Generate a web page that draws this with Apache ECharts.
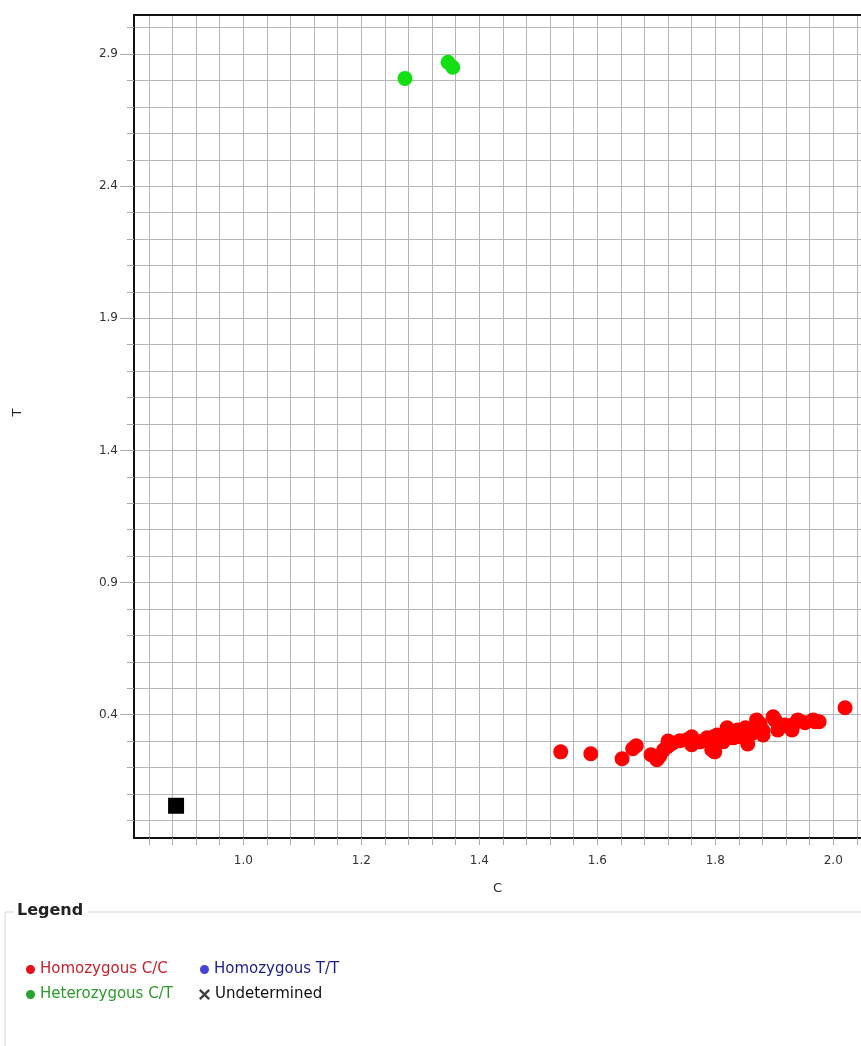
<!DOCTYPE html>
<html>
<head>
<meta charset="utf-8">
<script src="https://cdn.jsdelivr.net/npm/echarts@6/dist/echarts.min.js"></script>
<style>
html,body{margin:0;padding:0;background:#fff;}
#chart{width:861px;height:1046px;}
</style>
</head>
<body>
<div id="chart"></div>
<script>
// ---- data ----
const homozygousCC = [
  [1.538,0.259],[1.589,0.252],[1.642,0.233],[1.660,0.271],[1.666,0.282],
  [1.691,0.248],[1.701,0.229],[1.706,0.244],[1.712,0.265],[1.718,0.278],
  [1.720,0.300],[1.723,0.286],[1.728,0.293],[1.740,0.301],[1.752,0.305],
  [1.760,0.286],[1.760,0.316],[1.763,0.305],[1.774,0.297],[1.786,0.312],
  [1.794,0.267],[1.797,0.282],[1.797,0.316],[1.799,0.259],[1.803,0.323],
  [1.813,0.297],[1.820,0.350],[1.821,0.331],[1.830,0.312],[1.830,0.335],
  [1.837,0.316],[1.838,0.342],[1.847,0.316],[1.851,0.350],[1.854,0.305],
  [1.855,0.289],[1.864,0.331],[1.870,0.380],[1.876,0.365],[1.881,0.323],
  [1.881,0.339],[1.898,0.392],[1.901,0.380],[1.906,0.342],[1.918,0.361],
  [1.930,0.342],[1.931,0.361],[1.938,0.373],[1.940,0.380],[1.952,0.369],
  [1.966,0.380],[1.969,0.373],[1.976,0.373],[2.020,0.426]
];
const heterozygousCT = [[1.274,2.808],[1.347,2.869],[1.355,2.850]];
const homozygousTT = [];
const undetermined = [];
const ntc = [[0.886,0.055]];

const xTickLabels = [1.0,1.2,1.4,1.6,1.8,2.0];
const yTickLabels = [0.4,0.9,1.4,1.9,2.4,2.9];
const xMin = 0.8147, xMax = 2.047;
const yMin = -0.067, yMax = 3.048;

// minor grid positions
const xGrid = [];
for (let k = 21; k <= 51; k++) xGrid.push(Math.round(k * 4) / 100);
const yGrid = [];
for (let k = 0; k <= 30; k++) yGrid.push(k / 10);

const FONT = 'DejaVu Sans';
const gridCol = '#b5b5b5';

const chart = echarts.init(document.getElementById('chart'), null, {renderer: 'canvas'});

const xPath = 'path://M0,1.5L1.5,0L5,3.5L8.5,0L10,1.5L6.5,5L10,8.5L8.5,10L5,6.5L1.5,10L0,8.5L3.5,5Z';

const legendBase = {
  orient: 'horizontal', padding: 0, itemWidth: 9, itemHeight: 9,
  selectedMode: false,
  textStyle: {fontFamily: FONT, fontSize: 15}
};

chart.setOption({
  animation: false,
  backgroundColor: '#fff',
  grid: {left: 134, top: 15, right: 0, bottom: 208, containLabel: false},
  xAxis: [
    {
      type: 'value', min: xMin, max: xMax, position: 'bottom',
      name: 'C', nameLocation: 'middle', nameGap: 44,
      nameTextStyle: {fontFamily: FONT, fontSize: 13, color: '#222'},
      axisLine: {show: true, onZero: false, lineStyle: {color: '#111', width: 2}},
      axisTick: {show: true, customValues: xGrid, length: 7, lineStyle: {color: '#aaa'}},
      axisLabel: {show: true, customValues: xTickLabels, margin: 17,
        fontFamily: FONT, fontSize: 12, color: '#333',
        formatter: v => Number(v).toFixed(1)},
      splitLine: {show: true, lineStyle: {color: gridCol, width: 1}}
    },
    {
      type: 'value', min: xMin, max: xMax, position: 'bottom',
      axisLine: {show: false},
      axisTick: {show: true, customValues: xTickLabels, length: 11, lineStyle: {color: '#aaa'}},
      axisLabel: {show: false},
      splitLine: {show: false}
    },
    {
      type: 'value', min: xMin, max: xMax, position: 'top',
      axisLine: {show: true, onZero: false, lineStyle: {color: '#111', width: 2}},
      axisTick: {show: false}, axisLabel: {show: false}, splitLine: {show: false}
    }
  ],
  yAxis: [
    {
      type: 'value', min: yMin, max: yMax, position: 'left',
      name: 'T', nameLocation: 'middle', nameGap: 110, nameRotate: 90,
      nameTextStyle: {fontFamily: FONT, fontSize: 13, color: '#222', padding: [0, 0, 0, 28]},
      axisLine: {show: true, onZero: false, lineStyle: {color: '#111', width: 2}},
      axisTick: {show: true, customValues: yGrid, length: 7, lineStyle: {color: '#aaa'}},
      axisLabel: {show: true, customValues: yTickLabels, margin: 16,
        fontFamily: FONT, fontSize: 12, color: '#333',
        formatter: v => Number(v).toFixed(1)},
      splitLine: {show: true, lineStyle: {color: gridCol, width: 1}}
    },
    {
      type: 'value', min: yMin, max: yMax, position: 'left',
      axisLine: {show: false},
      axisTick: {show: true, customValues: yTickLabels, length: 14, lineStyle: {color: '#aaa'}},
      axisLabel: {show: false},
      splitLine: {show: false}
    }
  ],
  legend: [
    Object.assign({}, legendBase, {left: 26, top: 962,
      data: [{name: 'Homozygous C/C', icon: 'circle', itemStyle: {color: '#e8101c'}, textStyle: {color: '#c8202a'}}]}),
    Object.assign({}, legendBase, {left: 200, top: 962,
      data: [{name: 'Homozygous T/T', icon: 'circle', itemStyle: {color: '#1414c8'}, textStyle: {color: '#1c1c8a'}}]}),
    Object.assign({}, legendBase, {left: 26, top: 987,
      data: [{name: 'Heterozygous C/T', icon: 'circle', itemStyle: {color: '#24a530'}, textStyle: {color: '#2a9a2a'}}]}),
    Object.assign({}, legendBase, {left: 199, top: 987, itemWidth: 11, itemHeight: 11,
      data: [{name: 'Undetermined', icon: xPath, textStyle: {color: '#111'}}]})
  ],
  graphic: [
    {type: 'line', shape: {x1: 5, y1: 912, x2: 14, y2: 912}, style: {stroke: '#d4d4d4', lineWidth: 1}, silent: true},
    {type: 'line', shape: {x1: 88, y1: 912, x2: 861, y2: 912}, style: {stroke: '#d4d4d4', lineWidth: 1}, silent: true},
    {type: 'line', shape: {x1: 5, y1: 912, x2: 5, y2: 1046}, style: {stroke: '#d4d4d4', lineWidth: 1}, silent: true},
    {type: 'text', left: 17, top: 903, style: {text: 'Legend', fontFamily: FONT, fontSize: 16, fontWeight: 'bold', fill: '#222'}, silent: true}
  ],
  series: [
    {name: 'Homozygous C/C', type: 'scatter', xAxisIndex: 0, yAxisIndex: 0,
      symbol: 'circle', symbolSize: 15, itemStyle: {color: '#ff0000', opacity: 1},
      data: homozygousCC},
    {name: 'Homozygous T/T', type: 'scatter', xAxisIndex: 0, yAxisIndex: 0,
      symbol: 'circle', symbolSize: 15, itemStyle: {color: '#1010d0'},
      data: homozygousTT},
    {name: 'Heterozygous C/T', type: 'scatter', xAxisIndex: 0, yAxisIndex: 0,
      symbol: 'circle', symbolSize: 15, itemStyle: {color: '#12e012', opacity: 1},
      data: heterozygousCT},
    {name: 'Undetermined', type: 'scatter', xAxisIndex: 0, yAxisIndex: 0,
      symbol: xPath, symbolSize: 12, itemStyle: {color: '#111'},
      data: undetermined},
    {name: 'NTC', type: 'scatter', xAxisIndex: 0, yAxisIndex: 0,
      symbol: 'rect', symbolSize: 16, itemStyle: {color: '#000', opacity: 1},
      data: ntc}
  ]
});
</script>
</body>
</html>
